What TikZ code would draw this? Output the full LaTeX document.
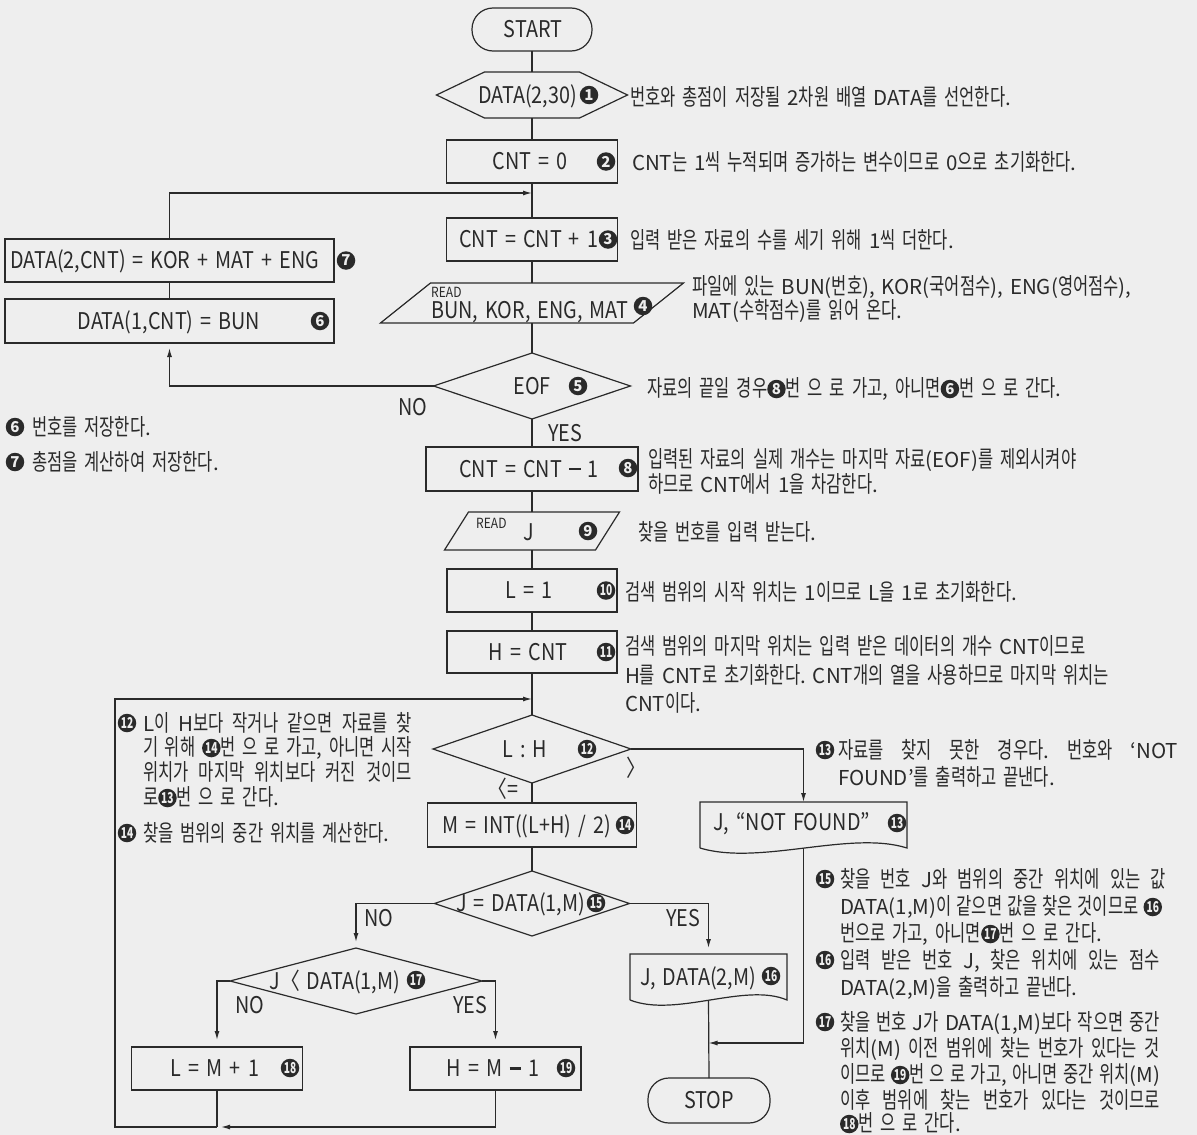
\documentclass[tikz,border=0pt]{standalone}
\usepackage{fontspec}
\setmainfont{Noto Sans CJK KR}[WordSpace=1.5]
\newfontfamily\latinfont{Noto Sans CJK KR}[WordSpace=1.5]
\newfontfamily\hangulfont{Noto Sans CJK KR}[Scale=1.12, FakeStretch=0.72]
\newfontfamily\fcfamily{Noto Sans CJK KR}[FakeStretch=0.86, WordSpace=1.6]
\usetikzlibrary{arrows.meta,shapes.geometric}

\definecolor{paper}{HTML}{EEEEEE}
\definecolor{ink}{HTML}{2A2A2A}

% Hangul syllables are set in a horizontally narrowed face
\XeTeXinterchartokenstate=1
\newXeTeXintercharclass\HangulCls
\newcount\hgc
\hgc="AC00
\loop
  \XeTeXcharclass\hgc=\HangulCls
\ifnum\hgc<"D7A3
  \advance\hgc by 1
\repeat
\XeTeXinterchartoks 0 \HangulCls = {\hangulfont}
\XeTeXinterchartoks 4095 \HangulCls = {\hangulfont}
\XeTeXinterchartoks \HangulCls 0 = {\latinfont}
\XeTeXinterchartoks \HangulCls 4095 = {\latinfont}

\newcommand\fcfont{\fcfamily\fontsize{23}{26}\selectfont}
\newcommand\readfont{\fcfamily\fontsize{14}{16}\selectfont}
\newcommand\annfont{\latinfont\fontsize{20.5}{24}\selectfont}
\newcommand\cnfont{\latinfont\bfseries\fontsize{15}{15}\selectfont}

% digits of a black circled step number
\newcommand\cnd[1]{\ifnum#1>9 \scalebox{0.68}[1]{#1}\else #1\fi}
% heavy minus used in the flowchart formulas
\newcommand\hminus{\rule[0.3em]{0.5em}{2.2pt}}

\tikzset{
  ln/.style={draw=ink, line width=1.2pt},
  arr/.style={ln, -{Latex[length=9pt,width=5pt]}},
  frame/.style={rectangle, inner sep=0pt, outer sep=0pt},
  procbox/.style={ln, frame, minimum height=43pt},
  term/.style={ln, frame, rounded corners=21pt},
  decision/.style={ln, diamond, inner sep=0pt, outer sep=0pt},
  fct/.style={font=\fcfont, text=ink, inner sep=0pt, outer sep=0pt, anchor=base},
  fctr/.style={fct, anchor=base east},
  readlbl/.style={font=\readfont, text=ink, inner sep=0pt, anchor=base west},
  ann/.style={font=\annfont, text=ink, inner sep=0pt, outer sep=0pt, anchor=base west},
  cn/.style={shape=circle, fill=ink, draw=none, text=paper, inner sep=0pt, outer sep=0pt,
    minimum size=18.5pt, font=\cnfont, text width=, align=center},
}

% circled step number inside running text
\newcommand\cnum[1]{\tikz[baseline=-0.34em]\node[cn,anchor=center]{\cnd{#1}};}

\begin{document}
\frenchspacing
\begin{tikzpicture}[x=1pt,y=-1pt]
\fill[paper] (0,0) rectangle (1197,1135);
\useasboundingbox (0,0) rectangle (1197,1135);

% ---------------- shapes of the main column ----------------
\node[term, minimum width=120pt, minimum height=43pt] (start) at (532,29.5) {};
\node[frame, minimum width=191pt, minimum height=46pt] (n1) at (532,95) {};
\draw[ln] (n1.west) -- ([xshift=48pt]n1.north west) -- ([xshift=-48pt]n1.north east)
  -- (n1.east) -- ([xshift=-48pt]n1.south east) -- ([xshift=48pt]n1.south west) -- cycle;
\node[procbox, minimum width=171pt] (n2) at (532,161.5) {};
\node[procbox, minimum width=171pt] (n3) at (532,239.5) {};
\node[frame, minimum width=303pt, minimum height=40pt] (n4) at (532,303) {};
\draw[ln] ([xshift=50pt]n4.north west) -- (n4.north east) -- ([xshift=-50pt]n4.south east)
  -- (n4.south west) -- cycle;
\node[decision, minimum width=197pt, minimum height=66pt] (n5) at (532,386) {};
\node[procbox, minimum width=329pt, minimum height=44pt] (n6) at (169.5,321) {};
\node[procbox, minimum width=329pt] (n7) at (169.5,260.5) {};
\node[procbox, minimum width=212pt, minimum height=44pt] (n8) at (532,469) {};
\node[frame, minimum width=175pt, minimum height=38pt] (n9) at (532,531) {};
\draw[ln] ([xshift=24pt]n9.north west) -- (n9.north east) -- ([xshift=-24pt]n9.south east)
  -- (n9.south west) -- cycle;
\node[procbox, minimum width=170pt] (n10) at (532,590.5) {};
\node[procbox, minimum width=170pt, minimum height=42pt] (n11) at (532,652) {};
\node[decision, minimum width=198pt, minimum height=68pt] (n12) at (532,749) {};
\node[procbox, minimum width=209pt, minimum height=44pt] (n14) at (532,825) {};
\node[decision, minimum width=195pt, minimum height=65pt] (n15) at (532,903.5) {};
\node[decision, minimum width=252pt, minimum height=66pt] (n17) at (356,981) {};
\node[procbox, minimum width=171pt] (n18) at (217,1068.5) {};
\node[procbox, minimum width=171pt] (n19) at (495.5,1068.5) {};

% output documents
\node[frame, minimum width=207pt, minimum height=46pt] (n13) at (803.5,825) {};
\draw[ln] (n13.south west) -- (n13.north west) -- (n13.north east) -- (n13.south east)
  .. controls +(-57,-18) and +(60,18) .. (n13.south west);
\node[frame, minimum width=157pt, minimum height=46pt] (n16) at (708.5,977) {};
\draw[ln] (n16.south west) -- (n16.north west) -- (n16.north east) -- (n16.south east)
  .. controls +(-42,-18) and +(46,18) .. (n16.south west);
\node[term, minimum width=122pt, minimum height=45pt] (stop) at (709,1100.5) {};

% junction points
\coordinate (j1) at (532,193);
\coordinate (j3) at (708.5,1043);
\coordinate (j4) at (217,1127);
\coordinate (k1) at (115,1127);
\coordinate (j5) at (532,699);

% ---------------- connectors ----------------
\draw[ln] (start.south) -- (n1.north);
\draw[ln] (n1.south) -- (n2.north);
\draw[ln] (n2.south) -- (n3.north);
\draw[ln] (n3.south) -- (n4.north);
\draw[ln] (n4.south) -- (n5.north);
\draw[ln] (n5.south) -- (n8.north);
\draw[ln] (n8.south) -- (n9.north);
\draw[ln] (n9.south) -- (n10.north);
\draw[ln] (n10.south) -- (n11.north);
\draw[ln] (n11.south) -- (n12.north);
\draw[ln] (n12.south) -- (n14.north);
\draw[ln] (n14.south) -- (n15.north);
\draw[arr] (n5.west) -| ([yshift=-5pt]n6.south);
\draw[ln] (n6.north) -- (n7.south);
\draw[arr] (n7.north) |- (j1);
\draw[arr] (n12.east) -| (n13.north);
\draw[arr] (n13.south) |- (j3);
\draw[ln] (n16.south) -- (stop.north);
\draw[arr] (n15.west) -| ([yshift=6pt]n17.north);
\draw[arr] (n15.east) -| ([yshift=6pt]n16.north);
\draw[arr] (n17.west) -| ([yshift=7pt]n18.north);
\draw[arr] (n17.east) -| ([yshift=7pt]n19.north);
\draw[ln] (n18.south) -- (j4);
\draw[arr] (n19.south) |- ([xshift=4pt]j4);
\draw[arr] (j4) -- (k1) |- (j5);

% ---------------- texts of the shapes ----------------
\node[fct] (tstart) at (533,37.5) {START};
\node[fctr] (t1) at (577,103) {DATA(2,30)};
\node[cn] (c1) at (589,95) {\cnd{1}};
\node[fct] (t2) at (530,169.5) {CNT = 0};
\node[cn] (c2) at (606,161.5) {\cnd{2}};
\node[fctr] (t3) at (598,247.5) {CNT = CNT + 1};
\node[cn] (c3) at (608,239.5) {\cnd{3}};
\node[readlbl] (r4) at (431,297) {READ};
\node[fct] (t4) at (530,318) {BUN, KOR, ENG, MAT};
\node[cn] (c4) at (643,306) {\cnd{4}};
\node[fct] (t5) at (532,394) {EOF};
\node[cn] (c5) at (578,386) {\cnd{5}};
\node[fct] (t6) at (169,329) {DATA(1,CNT) = BUN};
\node[cn] (c6) at (320,321) {\cnd{6}};
\node[fct, anchor=base west] (t7) at (10,268.5) {DATA(2,CNT) = KOR + MAT + ENG};
\node[cn] (c7) at (346,260.5) {\cnd{7}};
\node[fct] (t8) at (529,477) {CNT = CNT \hminus{} 1};
\node[cn] (c8) at (628,468) {\cnd{8}};
\node[readlbl] (r9) at (476,528) {READ};
\node[fct] (t9) at (529,540) {J};
\node[cn] (c9) at (588,531) {\cnd{9}};
\node[fct] (t10) at (529,598.5) {L = 1};
\node[cn] (c10) at (606,590.5) {\cnd{10}};
\node[fct] (t11) at (528,660) {H = CNT};
\node[cn] (c11) at (606,652) {\cnd{11}};
\node[fct] (t12) at (525,757) {L : H};
\node[cn] (c12) at (587,749) {\cnd{12}};
\node[fctr] (t14) at (611,833) {M = INT((L+H) / 2)};
\node[cn] (c14) at (625,825) {\cnd{14}};
\node[fctr] (t15) at (585,911.5) {J = DATA(1,M)};
\node[cn] (c15) at (596,903) {\cnd{15}};
\node[fct] (t13) at (792,830) {J, “NOT FOUND”};
\node[cn] (c13) at (897,823) {\cnd{13}};
\node[fctr] (t16) at (756,985) {J, DATA(2,M)};
\node[cn] (c16) at (771,976) {\cnd{16}};
\node[fctr] (t17) at (400,989) {J〈 DATA(1,M)};
\node[cn] (c17) at (416,980) {\cnd{17}};
\node[fct] (t18) at (215,1076.5) {L = M + 1};
\node[cn] (c18) at (290,1068) {\cnd{18}};
\node[fct] (t19) at (493,1076.5) {H = M \hminus{} 1};
\node[cn] (c19) at (566,1068) {\cnd{19}};
\node[fct] (tstop) at (709,1108.5) {STOP};

% branch labels
\node[fct] (lno5) at (413,415) {NO};
\node[fct] (lyes5) at (565,441) {YES};
\node[fct] (lgt) at (636,776) {〉};
\node[fct] (lle) at (503,797) {〈=};
\node[fct] (lno15) at (379,926) {NO};
\node[fct] (lyes15) at (683,926) {YES};
\node[fct] (lno17) at (250,1013) {NO};
\node[fct] (lyes17) at (470,1013) {YES};

% ---------------- explanations ----------------
\node[ann] (a1) at (630,105) {번호와 총점이 저장될 2차원 배열 DATA를 선언한다.};
\node[ann] (a2) at (632,170) {CNT는 1씩 누적되며 증가하는 변수이므로 0으로 초기화한다.};
\node[ann] (a3) at (630,248) {입력 받은 자료의 수를 세기 위해 1씩 더한다.};
\node[ann] (a4a) at (692,294) {파일에 있는 BUN(번호), KOR(국어점수), ENG(영어점수),};
\node[ann] (a4b) at (692,318) {MAT(수학점수)를 읽어 온다.};
\node[ann] (a5) at (647,396) {자료의 끝일 경우\cnum{8}번 으 로 가고, 아니면\cnum{6}번 으 로 간다.};
\node[ann] (a8a) at (648,467) {입력된 자료의 실제 개수는 마지막 자료(EOF)를 제외시켜야};
\node[ann] (a8b) at (648,492) {하므로 CNT에서 1을 차감한다.};
\node[ann] (a9) at (638,540) {찾을 번호를 입력 받는다.};
\node[ann] (a10) at (625,600) {검색 범위의 시작 위치는 1이므로 L을 1로 초기화한다.};
\node[ann] (a11a) at (625,654) {검색 범위의 마지막 위치는 입력 받은 데이터의 개수 CNT이므로};
\node[ann] (a11b) at (625,683) {H를 CNT로 초기화한다. CNT개의 열을 사용하므로 마지막 위치는};
\node[ann] (a11c) at (625,711) {CNT이다.};

% left column notes
\node[cn] (m6) at (15,427) {\cnd{6}};
\node[ann] (b6) at (32,435) {번호를 저장한다.};
\node[cn] (m7) at (15,462) {\cnd{7}};
\node[ann] (b7) at (32,470) {총점을 계산하여 저장한다.};
\node[cn] (m12) at (127,723) {\cnd{12}};
\node[ann] (b12a) at (143,731) {\makebox[269pt][s]{L이 H보다 작거나 같으면 자료를 찾}};
\node[ann] (b12b) at (143,755) {\makebox[269pt][s]{기 위해 \cnum{14}번 으 로 가고, 아니면 시작}};
\node[ann] (b12c) at (143,780) {\makebox[269pt][s]{위치가 마지막 위치보다 커진 것이므}};
\node[ann] (b12d) at (143,805) {로\cnum{13}번 으 로 간다.};
\node[cn] (m14) at (127,833) {\cnd{14}};
\node[ann] (b14) at (143,841) {찾을 범위의 중간 위치를 계산한다.};

% right column notes
\node[cn] (m13) at (825,750) {\cnd{13}};
\node[ann] (b13a) at (838,758) {\makebox[340pt][s]{자료를 찾지 못한 경우다. 번호와 ‘NOT}};
\node[ann] (b13b) at (838,785) {FOUND’를 출력하고 끝낸다.};
\node[cn] (m15) at (825,879) {\cnd{15}};
\node[ann] (b15a) at (840,887) {\makebox[326pt][s]{찾을 번호 J와 범위의 중간 위치에 있는 값}};
\node[ann] (b15b) at (840,914) {\makebox[322pt][s]{DATA(1,M)이 같으면 값을 찾은 것이므로 \cnum{16}}};
\node[ann] (b15c) at (840,941) {번으로 가고, 아니면\cnum{17}번 으 로 간다.};
\node[cn] (m16) at (825,960) {\cnd{16}};
\node[ann] (b16a) at (840,968) {\makebox[320pt][s]{입력 받은 번호 J, 찾은 위치에 있는 점수}};
\node[ann] (b16b) at (840,995) {DATA(2,M)을 출력하고 끝낸다.};
\node[cn] (m17) at (825,1022) {\cnd{17}};
\node[ann] (b17a) at (840,1030) {\makebox[320pt][s]{찾을 번호 J가 DATA(1,M)보다 작으면 중간}};
\node[ann] (b17b) at (840,1056) {\makebox[320pt][s]{위치(M) 이전 범위에 찾는 번호가 있다는 것}};
\node[ann] (b17c) at (840,1082) {\makebox[320pt][s]{이므로 \cnum{19}번 으 로 가고, 아니면 중간 위치(M)}};
\node[ann] (b17d) at (840,1108) {\makebox[320pt][s]{이후 범위에 찾는 번호가 있다는 것이므로}};
\node[ann] (b17e) at (840,1131) {\cnum{18}번 으 로 간다.};
\end{tikzpicture}
\end{document}
